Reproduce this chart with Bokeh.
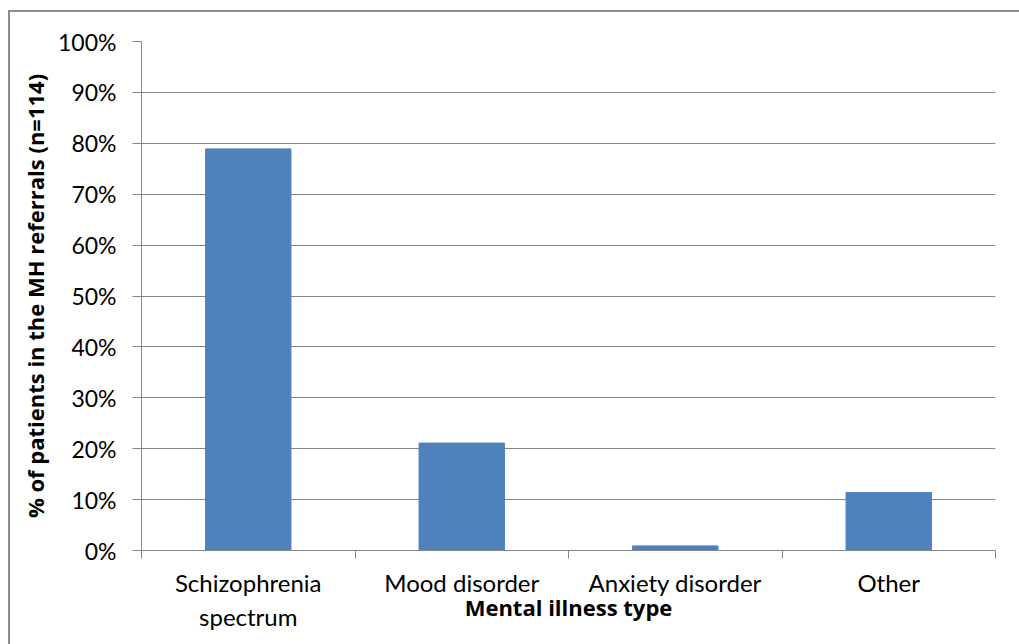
from bokeh.plotting import figure
from bokeh.models import FixedTicker, NumeralTickFormatter, Range1d, ColumnDataSource
from bokeh.embed import file_html
from bokeh.resources import INLINE

categories = ["Schizophrenia\nspectrum", "Mood disorder", "Anxiety disorder", "Other"]
share = [0.789, 0.211, 0.009, 0.114]
y_ticks = [0.0, 0.1, 0.2, 0.3, 0.4, 0.5, 0.6, 0.7, 0.8, 0.9, 1.0]
x_title = "Mental illness type"
y_title = "% of patients in the MH referrals (n=114)"

FONT = "Lato"
TITLE_FONT = "Open Sans"
GRAY = "#868686"

centers = [i + 0.5 for i in range(len(categories))]
bounds = [float(i) for i in range(len(categories) + 1)]
src = ColumnDataSource(dict(x=centers, top=share, cat=categories))

p = figure(width=1011, height=634, output_backend="svg", toolbar_location=None,
           x_range=Range1d(0, len(categories)), y_range=Range1d(0, 1),
           min_border_left=131, min_border_top=29, min_border_right=26, min_border_bottom=96)
p.margin = (10, 0, 0, 8)
p.styles = {"border-left": "2px solid #8c8c8c", "border-top": "2px solid #8c8c8c"}
p.outline_line_color = None
p.background_fill_color = "white"
p.border_fill_color = "white"

p.vbar(x="x", top="top", width=0.4, source=src, fill_color="#4F81BD", line_color="#4F81BD")

# y axis
ya = p.yaxis[0]
ya.ticker = FixedTicker(ticks=y_ticks)
ya.formatter = NumeralTickFormatter(format="0%")
ya.axis_line_color = GRAY
ya.major_tick_line_color = GRAY
ya.major_tick_out = 9
ya.major_tick_in = 0
ya.minor_tick_line_color = None
ya.major_label_text_font = FONT
ya.major_label_text_font_size = "23px"
ya.major_label_text_color = "#000000"
ya.major_label_standoff = 16
ya.axis_label = y_title
ya.axis_label_text_font = TITLE_FONT
ya.axis_label_text_font_style = "bold"
ya.axis_label_text_font_size = "22px"
ya.axis_label_text_color = "#000000"
ya.axis_label_standoff = 5

p.ygrid.ticker = FixedTicker(ticks=y_ticks)
p.ygrid.grid_line_color = GRAY
p.ygrid.grid_line_width = 1.2
p.xgrid.grid_line_color = None

# x axis: labels at category centres, tick marks at category boundaries
xa = p.xaxis[0]
xa.ticker = FixedTicker(ticks=centers, minor_ticks=bounds)
xa.major_label_overrides = {c: t for c, t in zip(centers, categories)}
xa.major_tick_line_color = None
xa.major_tick_out = 0
xa.major_tick_in = 0
xa.minor_tick_line_color = GRAY
xa.minor_tick_out = 8
xa.minor_tick_in = 0
xa.axis_line_color = GRAY
xa.major_label_text_font = FONT
xa.major_label_text_font_size = "24px"
xa.major_label_text_color = "#000000"
xa.major_label_standoff = 9
xa.axis_label = x_title
xa.axis_label_text_font = TITLE_FONT
xa.axis_label_text_font_style = "bold"
xa.axis_label_text_font_size = "22px"
xa.axis_label_text_color = "#000000"
xa.axis_label_standoff = -42

open("out.html", "w").write(file_html(p, INLINE))
